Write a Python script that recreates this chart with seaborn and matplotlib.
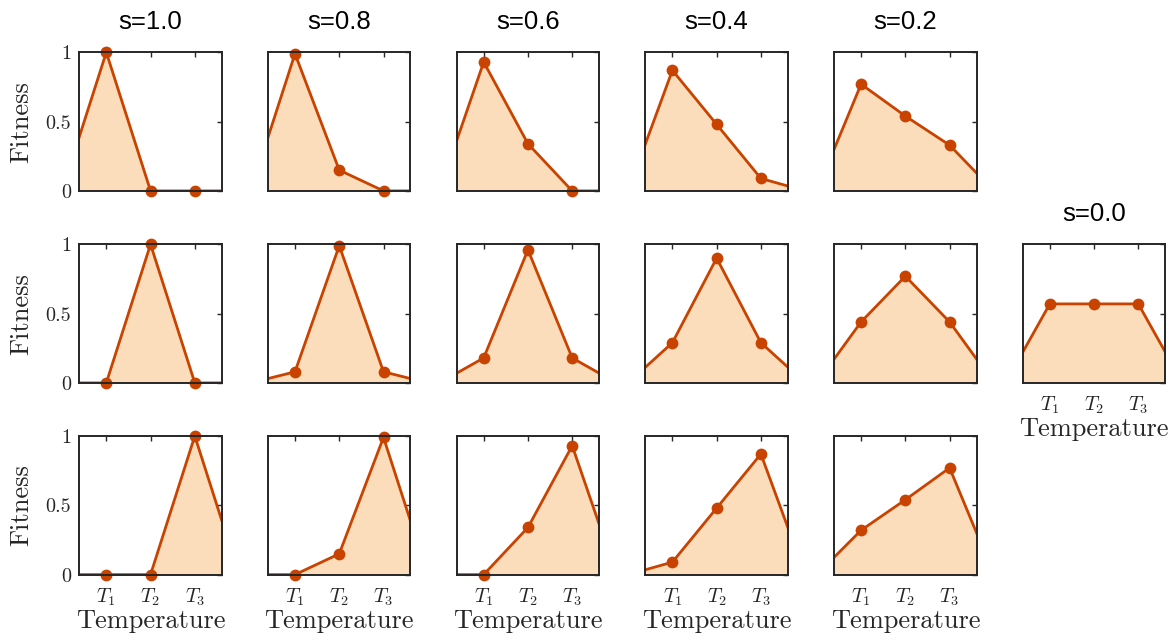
import numpy as np
import matplotlib
matplotlib.use('Agg')
import matplotlib.pyplot as plt
import seaborn as sns

# Fitness at the three temperatures, one list per s value
s_values = [1.0, 0.8, 0.6, 0.4, 0.2]
s_zero = 0.0
temp_labels = [r'$T_1$', r'$T_2$', r'$T_3$']
temps = [1, 2, 3]

# row 1: specialist at T1
fit_t1 = [[1.00, 0.00, 0.00],
          [0.99, 0.15, 0.00],
          [0.93, 0.34, 0.00],
          [0.87, 0.48, 0.09],
          [0.77, 0.54, 0.33]]
# row 2: specialist at T2
fit_t2 = [[0.00, 1.00, 0.00],
          [0.08, 0.99, 0.08],
          [0.18, 0.96, 0.18],
          [0.29, 0.90, 0.29],
          [0.44, 0.77, 0.44]]
# row 3: specialist at T3
fit_t3 = [[0.00, 0.00, 1.00],
          [0.00, 0.15, 0.99],
          [0.00, 0.34, 0.93],
          [0.09, 0.48, 0.87],
          [0.32, 0.54, 0.77]]
# generalist, s=0
fit_s0 = [0.57, 0.57, 0.57]

# curve is anchored at zero just outside the temperature range
edge_x = [0, 4]
edge_y = [0.0, 0.0]

line_color = '#C94300'
fill_color = '#FCDDBB'
frame_color = '#262626'

sns.set_style('white')
plt.rcParams['mathtext.fontset'] = 'cm'
plt.rcParams['font.family'] = ['cmr10', 'DejaVu Sans']
plt.rcParams['axes.unicode_minus'] = False

W, H = 1175, 640
fig = plt.figure(figsize=(W / 100, H / 100), dpi=100)

lefts = [79.3, 268.0, 456.7, 645.4, 834.1, 1022.8]
tops = [52.3, 244.3, 436.0]
aw, ah = 142.5, 138.6


def panel(col, row, vals, title=None, ylab=False, xlab=False):
    ax = fig.add_axes([lefts[col] / W, 1 - (tops[row] + ah) / H, aw / W, ah / H])
    xs = [edge_x[0]] + temps + [edge_x[1]]
    ys = [edge_y[0]] + list(vals) + [edge_y[1]]
    ax.fill_between(xs, ys, 0, color=fill_color, lw=0, zorder=0.5)
    sns.lineplot(x=xs, y=ys, ax=ax, color=line_color, lw=2.0, zorder=2)
    sns.scatterplot(x=temps, y=vals, ax=ax, color=line_color, s=72,
                    edgecolor=line_color, linewidth=0, clip_on=False, zorder=1.5)
    ax.set_xlim(0.39, 3.61)
    ax.set_ylim(0, 1)
    ax.set_xticks(temps)
    ax.set_yticks([0, 0.5, 1])
    ax.tick_params(direction='in', length=3.5, width=1.0, color=frame_color,
                   top=True, right=True, labelsize=14.5, labelcolor=frame_color)
    ax.tick_params(axis='x', pad=8.5)
    ax.tick_params(axis='y', pad=6)
    for sp in ax.spines.values():
        sp.set_color(frame_color)
        sp.set_linewidth(1.4)
        sp.set_visible(True)
    if xlab:
        ax.set_xticklabels(temp_labels)
        ax.set_xlabel('Temperature', fontsize=19, color=frame_color, labelpad=1)
    else:
        ax.set_xticklabels([])
    if ylab:
        ax.set_yticklabels(['0', '0.5', '1'])
        ax.set_ylabel('Fitness', fontsize=19, color=frame_color, labelpad=9)
    else:
        ax.set_yticklabels([])
    if title:
        ax.set_title(title, fontsize=18.5, family='Liberation Sans', color='black', pad=17)
    return ax


for i, s in enumerate(s_values):
    panel(i, 0, fit_t1[i], title=f's={s:.1f}', ylab=(i == 0))
    panel(i, 1, fit_t2[i], ylab=(i == 0))
    panel(i, 2, fit_t3[i], ylab=(i == 0), xlab=True)

panel(5, 1, fit_s0, title=f's={s_zero:.1f}', xlab=True)

fig.savefig('out.png', dpi=100)
